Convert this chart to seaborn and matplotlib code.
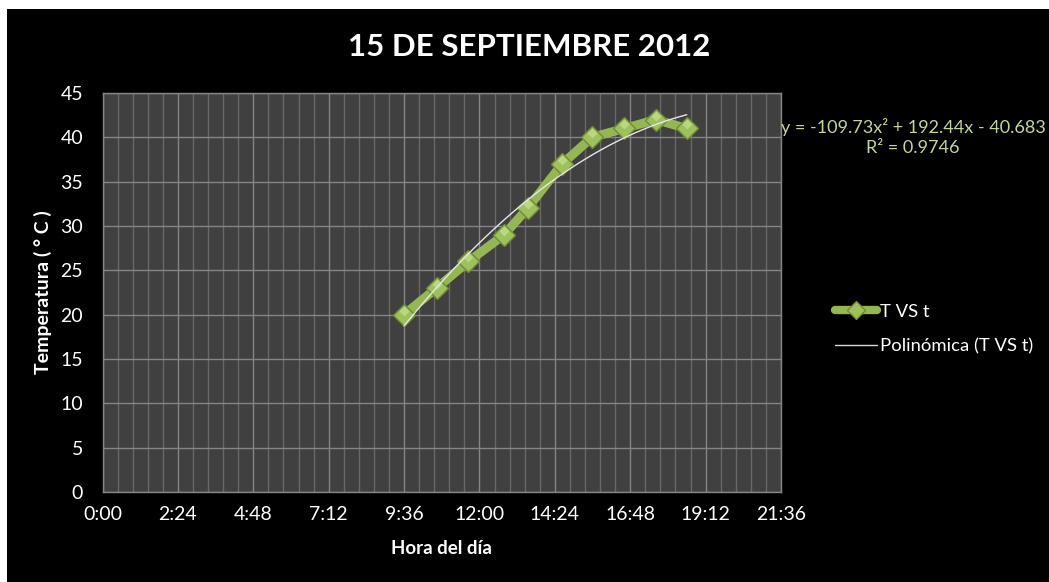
import numpy as np
import pandas as pd
import matplotlib
matplotlib.use("Agg")
import matplotlib.pyplot as plt
from matplotlib.lines import Line2D
from matplotlib.patches import Rectangle
from matplotlib.ticker import MultipleLocator, FuncFormatter
import seaborn as sns

# Readings of the day (clock time, temperature in °C)
hours = ["9:36", "10:38", "11:39", "12:47", "13:32", "14:38", "15:35", "16:37", "17:37", "18:36"]
temps = [20, 23, 26, 29, 32, 37, 40, 41, 42, 41]

# Second-order trend (x in fraction of a day) and its fit quality
trend_coef = [-109.73, 192.44, -40.683]
r_squared = 0.9746

title = "15 DE SEPTIEMBRE 2012"
x_label = "Hora del día"
y_label = "Temperatura ( ° C )"
series_name = "T VS t"
trend_name = "Polinómica (T VS t)"


def to_day_fraction(s):
    h, m = s.split(":")
    return (int(h) * 60 + int(m)) / 1440.0


df = pd.DataFrame({"dia": [to_day_fraction(h) for h in hours], "T": temps})

sns.set_style("dark")
plt.rcParams["font.family"] = ["Lato", "DejaVu Sans"]

GREEN = "#93b853"
BG = "#404040"

fig = plt.figure(figsize=(10.49, 5.82), dpi=100, facecolor="white")
fig.patches.append(Rectangle((7 / 1049, 0), 1, 1 - 9 / 582, transform=fig.transFigure,
                             facecolor="black", edgecolor="none", zorder=-10))
ax = fig.add_axes([102.5 / 1049, 1 - 492 / 582, (781 - 102.5) / 1049, (492 - 93) / 582])
ax.set_facecolor(BG)

ax.set_xlim(0, 0.9)
ax.set_ylim(0, 45)
ax.xaxis.set_major_locator(MultipleLocator(0.1))
ax.xaxis.set_minor_locator(MultipleLocator(0.02))
ax.yaxis.set_major_locator(MultipleLocator(5))


def fmt_time(v, pos):
    mins = int(round(v * 1440))
    return f"{mins // 60}:{mins % 60:02d}"


ax.xaxis.set_major_formatter(FuncFormatter(fmt_time))
ax.grid(which="major", axis="both", color="#858585", linewidth=1.0)
ax.grid(which="minor", axis="x", color="#686868", linewidth=1.0)
ax.set_axisbelow(True)
for s in ax.spines.values():
    s.set_color("#858585")
    s.set_linewidth(1.0)
ax.tick_params(which="both", length=0, colors="white", labelsize=14)
ax.tick_params(axis="x", pad=10)
ax.tick_params(axis="y", pad=14)

# Measured series
sns.lineplot(data=df, x="dia", y="T", ax=ax, color=GREEN, linewidth=6.5, marker="D",
             markersize=11.5, markerfacecolor="#9dc15c", markeredgecolor="#6f8d35",
             markeredgewidth=1.0, zorder=3, legend=False)
# Highlight on the upper facets of each marker
ax.plot(df["dia"], df["T"] + 0.45, linestyle="none", marker="D", markersize=5,
        markerfacecolor="#b9d77c", markeredgecolor="none", zorder=4)

# Polynomial trend
xs = np.linspace(df["dia"].min(), df["dia"].max(), 200)
ys = np.polyval(trend_coef, xs)
sns.lineplot(x=xs, y=ys, ax=ax, color="#e6e6e6", linewidth=1.0, zorder=5, legend=False)

ax.set_xlabel(x_label, color="white", fontsize=13.5, fontweight="bold", labelpad=12)
ax.set_ylabel(y_label, color="white", fontsize=14, fontweight="bold", labelpad=6)

fig.text(529 / 1049, 1 - 47 / 582, title, color="white", fontsize=22.5, fontweight="bold",
         ha="center", va="center")

a, b, c = trend_coef
eq = f"y = {a:.2f}x² + {b:.2f}x - {abs(c):.3f}\nR² = {r_squared:.4f}"
fig.text(913 / 1049, 1 - 137 / 582, eq, color="#c3d69b", fontsize=13, ha="center",
         va="center", linespacing=1.3)

handles = [
    Line2D([], [], color=GREEN, linewidth=6, marker="D", markersize=9,
           markerfacecolor="#9dc15c", markeredgecolor="#6f8d35"),
    Line2D([], [], color="#d9d9d9", linewidth=1.0),
]
leg = fig.legend(handles, [series_name, trend_name], loc="center left",
                 bbox_to_anchor=(818 / 1049, 1 - 329 / 582), frameon=False,
                 fontsize=13.3, labelcolor="white", handlelength=2.3,
                 handletextpad=0.15, labelspacing=1.0)

fig.savefig("out.png", dpi=100, facecolor=fig.get_facecolor())
